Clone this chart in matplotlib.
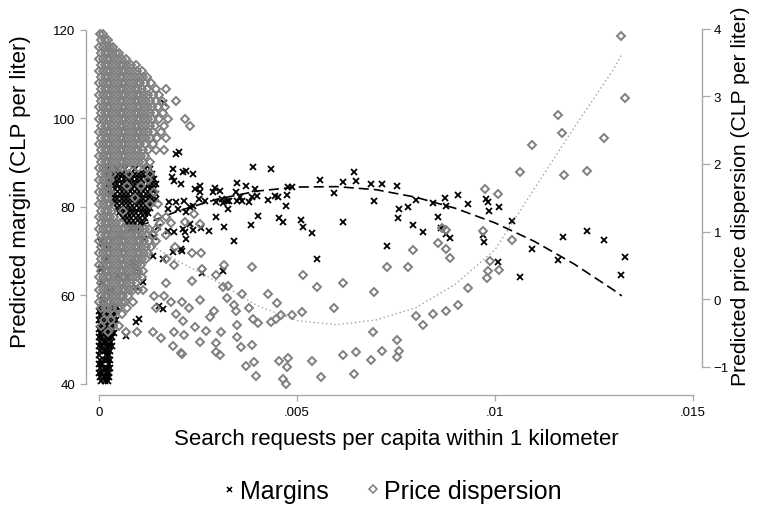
import matplotlib
matplotlib.use("Agg")
import matplotlib.pyplot as plt
from matplotlib.lines import Line2D

plt.rcParams['font.family'] = ['Liberation Sans', 'DejaVu Sans']

# search requests are stored per 10,000 inhabitants, converted when plotted
# margins (CLP per liter), scattered stations
margin_x = [22.0, 38.9, 43.4, 64.4, 64.9, 55.8, 61.6, 68.7, 71.5, 75.3, 25.5, 24.2, 25.5, 29.3,
            30.6, 28.8, 34.8, 37.1, 34.6, 39.4, 39.9, 38.6, 35.6, 36.1, 37.9, 34.8, 32.3, 31.1,
            29.5, 31.3, 32.8, 26.8, 25.3, 21.5, 23.7, 23.0, 32.6, 42.7, 44.4, 45.2, 47.7, 48.7,
            47.5, 47.2, 59.3, 69.4, 80.1, 84.3, 78.0, 75.8, 75.5, 79.3, 81.8, 85.6, 29.5, 40.2,
            38.4, 31.6, 27.8, 25.8, 23.7, 21.7, 23.0, 45.5, 46.5, 51.0, 51.5, 53.8, 61.6, 34.1,
            21.0, 55.1, 72.7, 26.0, 31.3, 87.4, 87.6, 90.7, 93.2, 86.4, 87.6, 88.6, 97.7, 98.2,
            101.0, 98.5, 104.3, 97.0, 97.2, 100.8, 106.3, 109.3, 115.9, 117.2, 123.2, 127.5,
            132.8, 131.8,
            19.4, 18.7, 21.2, 23.7, 18.9, 20.7, 17.7, 19.4, 17.4, 19.9, 22.0, 14.9, 17.4, 18.9,
            21.2, 22.0, 13.9, 11.4, 20.7, 18.7, 13.6, 16.2, 8.6, 9.3, 16.4, 20.2, 18.4, 4.8, 6.8,
            11.1, 9.3, 16.2, 15.2, 10.1, 9.3, 6.8, 0.5, 1.5, 0.8, 2.0, 1.0, 3.0, 0.4, 2.5]
margin_y = [88.1, 89.0, 88.6, 87.9, 85.9, 86.1, 85.7, 85.2, 85.2, 84.7, 84.7, 84.1, 83.4, 84.3,
            83.6, 83.4, 85.4, 84.7, 83.4, 84.1, 82.5, 82.3, 82.3, 81.4, 81.1, 81.4, 81.4, 81.8,
            81.1, 80.9, 81.4, 81.4, 81.8, 81.4, 80.2, 80.0, 79.5, 81.6, 82.5, 82.3, 84.5, 84.5,
            82.7, 80.2, 83.2, 81.4, 81.6, 80.9, 80.0, 79.5, 77.5, 75.9, 74.4, 77.7, 77.7, 78.0,
            75.9, 75.5, 74.6, 75.3, 74.8, 74.4, 76.2, 77.5, 76.6, 77.1, 75.5, 74.1, 76.6, 72.3,
            70.1, 68.2, 71.2, 65.1, 65.5, 82.0, 80.2, 82.7, 80.7, 75.3, 73.9, 73.0, 81.8, 81.1,
            80.0, 79.1, 76.8, 73.7, 72.1, 67.6, 64.2, 70.5, 68.0, 73.2, 74.6, 72.5,
            68.7, 64.6,
            92.0, 88.6, 87.9, 87.5, 85.9, 85.2, 81.1, 81.1, 79.5, 79.5, 78.9, 75.5, 74.6, 74.4,
            75.0, 72.8, 73.2, 72.8, 70.5, 69.8, 68.9, 68.2, 67.6, 66.0, 103.5, 92.4, 86.8, 64.4,
            64.2, 63.0, 61.9, 57.0, 57.6, 54.7, 54.0, 50.8, 72.0, 68.0, 63.0, 60.5, 59.0, 61.0,
            66.0, 70.5]

# margins, dense group of low-search stations: (margin, [search requests])
margin_rows = [
    (88.5, [2.0, 4.5, 6.5, 9.0, 11.5, 13.0]),
    (87.4, [2.4, 3.5, 4.7, 5.7, 6.9, 7.9, 9.0, 10.2, 11.2, 12.3, 13.4]),
    (86.3, [2.9, 4.0, 5.1, 6.3, 7.3, 8.4, 9.5, 10.6, 11.8, 12.8, 14.0]),
    (85.2, [2.4, 3.5, 4.6, 5.7, 6.8, 8.0, 9.0, 10.1, 11.2, 12.3, 13.4, 14.5]),
    (84.1, [2.9, 4.0, 5.2, 6.2, 7.3, 8.4, 9.6, 10.6, 11.7, 12.8, 14.0]),
    (83.0, [3.0, 4.1, 5.2, 6.3, 7.4, 8.5, 9.6, 10.7, 11.8, 12.9, 14.5]),
    (81.9, [3.5, 4.6, 5.7, 6.8, 7.9, 9.0, 10.1, 11.2, 12.3, 13.4, 14.3]),
    (80.8, [3.5, 4.6, 5.7, 6.8, 7.9, 9.0, 10.1, 11.2, 12.3, 13.4]),
    (79.7, [4.5, 5.6, 6.7, 7.8, 8.9, 10.0, 11.1, 12.2, 13.0]),
    (78.6, [5.0, 6.1, 7.2, 8.3, 9.4, 10.5, 11.6, 12.5]),
    (77.5, [6.0, 7.1, 8.2, 9.3, 10.4, 11.5]),
    (76.4, [7.0, 8.1, 9.2, 10.3, 11.0]),
    (75.3, [8.0, 9.5]),
    (57.5, [0.3, 1.2, 2.1, 3.0, 3.9, 4.6]),
    (56.5, [0.0, 0.8, 1.7, 2.6, 3.5, 4.3]),
    (55.5, [0.3, 1.2, 2.1, 3.0, 3.9]),
    (54.5, [0.0, 0.8, 1.7, 2.6, 3.5, 4.4]),
    (53.5, [0.3, 1.2, 2.1, 3.0, 3.9]),
    (52.5, [0.0, 0.8, 1.7, 2.6, 3.5]),
    (51.5, [0.3, 1.2, 2.1, 3.0, 3.8]),
    (50.5, [0.0, 0.8, 1.7, 2.6, 3.4]),
    (49.5, [0.3, 1.2, 2.1, 3.0]),
    (48.5, [0.0, 0.8, 1.7, 2.6, 3.3]),
    (47.5, [0.3, 1.2, 2.1, 2.9]),
    (46.5, [0.0, 1.7, 2.6]),
    (45.5, [0.3, 1.2, 2.1, 2.9]),
    (44.5, [0.0, 0.8, 2.6]),
    (43.5, [0.3, 1.2, 2.1, 2.8]),
    (42.5, [0.0, 0.8, 1.7, 2.5]),
    (41.5, [0.3, 1.2, 2.1, 2.6]),
    (40.6, [0.6, 1.5, 2.3]),
]

# price dispersion (CLP per liter), scattered stations
disp_x = [38.6, 51.5, 55.1, 61.6, 69.4, 72.7, 78.0, 79.3, 85.6, 59.3, 31.6, 26.0, 23.5, 25.8,
          21.7, 24.0, 25.5, 23.5, 29.5, 31.3, 32.6, 32.3, 36.1, 42.7, 25.5, 21.0, 22.7, 34.1,
          37.9, 44.9, 46.0, 48.7, 51.3, 29.0, 28.0, 34.6, 38.9, 40.2, 43.4, 44.7, 34.8, 21.2,
          24.2, 27.0, 30.8, 21.5, 25.5, 29.5, 34.8, 38.6, 35.9, 29.5, 30.6, 21.0, 69.2, 80.1,
          81.8, 84.3, 75.3, 71.5, 75.8, 75.3, 68.7, 64.9, 61.6, 64.4, 56.1, 53.8, 47.7, 45.5,
          47.5, 37.1, 39.1, 39.6, 46.5, 47.2, 131.8, 132.8, 115.9, 116.9, 127.5, 109.3, 106.3,
          117.4, 123.2, 97.5, 100.8, 97.0, 86.6, 87.6, 87.6, 88.6, 104.3, 98.7, 101.0, 98.2,
          98.0, 93.2, 90.7, 87.6]
disp_y = [0.47, 0.36, 0.18, 0.24, 0.10, 0.47, 0.47, 0.73, 0.83, -0.13, 0.50, 0.44, 0.68, 0.68,
          1.14, 1.26, 1.11, 0.27, 0.36, 0.18, 0.19, 0.01, 0.07, 0.07, -0.01, -0.04, -0.13, -0.09,
          -0.13, -0.06, -0.24, -0.24, -0.19, -0.18, -0.27, -0.18, -0.30, -0.36, -0.34, -0.30,
          -0.39, -0.33, -0.41, -0.47, -0.49, -0.53, -0.64, -0.65, -0.56, -0.68, -0.71, -0.79,
          -0.83, -0.81, -0.49, -0.25, -0.39, -0.22, -0.61, -0.77, -0.77, -0.86, -0.90, -0.79,
          -0.83, -1.11, -1.16, -0.92, -0.87, -0.92, -1.01, -0.99, -0.93, -1.14, -1.19, -1.26,
          3.90, 2.98, 2.73, 2.46, 2.39, 2.28, 1.88, 1.84, 1.90, 1.63, 1.56, 1.01, 1.05, 1.02,
          0.74, 0.61, 0.87, 0.56, 0.43, 0.41, 0.31, 0.16, -0.09, -0.18]

# price dispersion, dense group of low-search stations: (dispersion, [search requests])
disp_rows = [
    (3.92, [0.3, 1.0]),
    (3.83, [0.5, 1.4, 2.3]),
    (3.74, [0.1, 0.9, 1.9, 2.8, 3.6]),
    (3.65, [0.5, 1.4, 2.3, 3.3, 4.2, 5.1]),
    (3.56, [0.1, 0.9, 1.9, 2.8, 3.8, 4.7, 5.7, 6.8]),
    (3.47, [0.5, 1.4, 2.3, 3.3, 4.2, 5.2, 6.1, 7.1, 8.2, 9.3]),
    (3.38, [0.1, 0.9, 1.9, 2.8, 3.8, 4.7, 5.7, 6.6, 7.6, 8.5, 9.6, 10.8]),
    (3.29, [0.5, 1.4, 2.3, 3.3, 4.2, 5.2, 6.1, 7.1, 8.0, 9.0, 10.0, 11.0, 12.2]),
    (3.20, [0.1, 0.9, 1.9, 2.8, 3.8, 4.7, 5.7, 6.6, 7.6, 8.5, 9.5, 10.4, 11.5, 13.2]),
    (3.11, [0.5, 1.4, 2.3, 3.3, 4.2, 5.2, 6.1, 7.1, 8.0, 9.0, 9.9, 10.9, 12.0, 14.3, 17.0]),
    (3.02, [0.1, 0.9, 1.9, 2.8, 3.8, 4.7, 5.7, 6.6, 7.6, 8.5, 9.5, 10.4, 11.4, 12.5, 13.6,
            15.1]),
    (2.93, [0.5, 1.4, 2.3, 3.3, 4.2, 5.2, 6.1, 7.1, 8.0, 9.0, 9.9, 10.9, 11.8, 13.0, 14.5,
            16.0, 19.5]),
    (2.84, [0.1, 0.9, 1.9, 2.8, 3.8, 4.7, 5.7, 6.6, 7.6, 8.5, 9.5, 10.4, 11.4, 12.3, 13.5,
            15.0, 16.6]),
    (2.75, [0.5, 1.4, 2.3, 3.3, 4.2, 5.2, 6.1, 7.1, 8.0, 9.0, 9.9, 10.9, 11.8, 12.8, 14.2,
            16.2]),
    (2.66, [0.1, 0.9, 1.9, 2.8, 3.8, 4.7, 5.7, 6.6, 7.6, 8.5, 9.5, 10.4, 11.4, 12.3, 13.3,
            15.2, 17.4, 21.8]),
    (2.57, [0.5, 1.4, 2.3, 3.3, 4.2, 5.2, 6.1, 7.1, 8.0, 9.0, 9.9, 10.9, 11.8, 12.8, 14.2,
            16.4, 23.0]),
    (2.48, [0.1, 0.9, 1.9, 2.8, 3.8, 4.7, 5.7, 6.6, 7.6, 8.5, 9.5, 10.4, 11.4, 12.3, 13.6,
            15.6]),
    (2.39, [0.5, 1.4, 2.3, 3.3, 4.2, 5.2, 6.1, 7.1, 8.0, 9.0, 9.9, 10.9, 11.8, 13.0, 14.6,
            16.8]),
    (2.30, [0.1, 0.9, 1.9, 2.8, 3.8, 4.7, 5.7, 6.6, 7.6, 8.5, 9.5, 10.4, 11.6, 13.6]),
    (2.21, [0.5, 1.4, 2.3, 3.3, 4.2, 5.2, 6.1, 7.1, 8.0, 9.0, 9.9, 11.0, 12.5, 14.4, 16.3]),
    (2.12, [0.1, 0.9, 1.9, 2.8, 3.8, 4.7, 5.7, 6.6, 7.6, 8.5, 9.5, 10.5, 11.6]),
    (2.03, [0.5, 1.4, 2.3, 3.3, 4.2, 5.2, 6.1, 7.1, 8.0, 9.0, 10.0, 11.2, 12.8]),
    (1.94, [0.1, 0.9, 1.9, 2.8, 3.8, 4.7, 5.7, 7.2, 9.8, 12.0]),
    (1.85, [0.5, 1.4, 2.3, 3.3, 7.5, 13.0]),
    (1.76, [0.1, 0.9, 1.9, 2.8, 12.4]),
    (1.67, [0.5, 1.4, 2.3, 7.0, 10.5]),
    (1.58, [0.1, 0.9, 1.9, 2.8, 14.0]),
    (1.49, [0.5, 1.4, 2.3, 9.0]),
    (1.40, [0.1, 0.9, 1.9, 2.8, 12.9, 14.8]),
    (1.31, [0.5, 1.4, 2.3, 3.3, 6.0]),
    (1.22, [0.1, 0.9, 1.9, 2.8, 3.8, 14.8, 16.8]),
    (1.13, [0.5, 1.4, 2.3, 3.3, 4.2, 5.2, 15.5, 18.2]),
    (1.04, [0.1, 0.9, 1.9, 2.8, 3.8, 4.7, 5.7, 6.6, 7.6, 8.5, 9.5, 10.4, 11.6, 12.6, 14.5]),
    (0.95, [0.5, 1.4, 2.3, 3.3, 4.2, 5.2, 6.1, 7.1, 8.0, 9.0, 9.9, 10.9, 11.8, 13.6, 16.8]),
    (0.86, [0.1, 0.9, 1.9, 2.8, 3.8, 4.7, 5.7, 6.6, 7.6, 8.5, 9.5, 10.4, 11.4, 12.6, 14.5]),
    (0.77, [0.5, 1.4, 2.3, 3.3, 4.2, 5.2, 6.1, 7.1, 8.0, 9.0, 9.9, 10.9, 11.8, 13.2, 19.2]),
    (0.68, [0.1, 0.9, 1.9, 2.8, 3.8, 4.7, 5.7, 6.6, 7.6, 8.5, 9.5, 10.4, 11.4, 12.3]),
    (0.59, [0.5, 1.4, 2.3, 3.3, 4.2, 5.2, 6.1, 7.1, 8.0, 9.0, 9.9, 10.9, 11.8, 16.8]),
    (0.50, [0.1, 0.9, 1.9, 2.8, 3.8, 4.7, 5.7, 6.6, 7.6, 8.5, 9.5, 10.6, 18.9]),
    (0.41, [0.5, 1.4, 2.3, 3.3, 4.2, 5.2, 6.1, 7.1, 8.0, 9.0, 9.9, 11.0]),
    (0.32, [0.1, 0.9, 1.9, 2.8, 3.8, 4.7, 5.7, 6.6, 7.6, 8.5, 9.6, 10.8]),
    (0.23, [0.5, 1.4, 2.3, 3.3, 4.2, 5.2, 6.1, 7.1, 8.0, 9.4, 16.9]),
    (0.14, [0.1, 0.9, 1.9, 2.8, 3.8, 4.7, 5.7, 6.6, 7.6, 8.5, 9.8, 11.0]),
    (0.05, [0.5, 1.4, 2.3, 3.3, 4.2, 5.2, 6.1, 7.2, 13.9, 16.4]),
    (-0.04, [0.1, 0.9, 1.9, 2.8, 3.8, 4.7, 5.7, 6.6, 8.6, 18.2]),
    (-0.13, [0.5, 1.4, 2.3, 3.3, 4.8, 7.0, 14.4]),
    (-0.22, [2.0, 3.9, 5.8, 19.4]),
    (-0.31, [1.2, 3.0]),
    (-0.40, [0.6, 3.6, 5.0]),
    (-0.49, [2.4, 6.9, 9.5, 13.6, 18.9]),
    (-0.58, [15.7]),
    (-0.70, [18.7]),
    (-0.80, [20.7]),
]

# fitted curves
fit_x = [0, 0.001, 0.002, 0.003, 0.004, 0.005, 0.006, 0.007, 0.008, 0.009, 0.010, 0.011,
         0.012, 0.013, 0.0132]
margin_fit = [71.2, 75.6, 79.1, 81.8, 83.6, 84.5, 84.6, 83.9, 82.2, 79.7, 76.4, 72.2, 67.1,
              61.2, 59.9]
disp_fit = [1.25, 0.90, 0.56, 0.25, -0.10, -0.32, -0.38, -0.31, -0.13, 0.22, 0.73, 1.64, 2.54,
            3.41, 3.62]


def expand(rows):
    xs, ys = [], []
    for y, row in rows:
        for x in row:
            xs.append(x)
            ys.append(y)
    return xs, ys


mx, my = expand(margin_rows)
mx = [x / 1e4 for x in margin_x + mx]
my = margin_y + my
dx, dy = expand(disp_rows)
dx = [x / 1e4 for x in disp_x + dx]
dy = disp_y + dy

AXIS_GREY = '#a9a9a9'
DIAMOND_GREY = '#808080'

fig = plt.figure(figsize=(7.64, 5.10), dpi=100)
ax = fig.add_axes([86 / 764, 114 / 510, 616 / 764, 370 / 510])
ax.patch.set_visible(False)

ax.plot(fit_x, margin_fit, color='black', lw=1.2, dashes=(6, 3), zorder=1)
ax.plot(mx, my, 'x', ls='none', color='black', ms=4.3, mew=1.3, zorder=2)

ax2 = ax.twinx()
ax2.plot(fit_x, disp_fit, color='#a0a0a0', lw=1.0, linestyle=(0, (1, 2)), zorder=1)
ax2.plot(dx, dy, 'D', ls='none', mfc='none', mec=DIAMOND_GREY, ms=3.7, mew=1.4, zorder=2)

ax.set_xlim(-0.000328, 0.015227)
ax.set_ylim(37.5, 121.13)
ax2.set_ylim(-1.422, 4.059)

ax.set_xticks([0, 0.005, 0.01, 0.015])
ax.set_xticklabels(['0', '.005', '.01', '.015'])
ax.set_yticks([40, 60, 80, 100, 120])
ax2.set_yticks([-1, 0, 1, 2, 3, 4])

for s in ['top', 'right']:
    ax.spines[s].set_visible(False)
for s in ['top', 'left', 'bottom']:
    ax2.spines[s].set_visible(False)
ax.spines['left'].set_bounds(40, 120)
ax.spines['bottom'].set_bounds(0, 0.015)
ax2.spines['right'].set_bounds(-1, 4)
for sp in [ax.spines['left'], ax.spines['bottom'], ax2.spines['right']]:
    sp.set_color(AXIS_GREY)
    sp.set_linewidth(1.0)

ax.tick_params(axis='both', direction='out', length=4.3, width=0.9, color=AXIS_GREY,
               labelsize=9.5, pad=3.5)
ax2.tick_params(axis='y', direction='out', length=5.8, width=0.9, color=AXIS_GREY,
                labelsize=9.5, pad=2.5)

fig.text(396 / 764, 1 - 440 / 510, 'Search requests per capita within 1 kilometer',
         ha='center', va='center', fontsize=16)
fig.text(21 / 764, 1 - 192 / 510, 'Predicted margin (CLP per liter)', rotation=90,
         ha='center', va='center', fontsize=16)
fig.text(741 / 764, 1 - 196 / 510, 'Predicted price dispersion (CLP per liter)', rotation=90,
         ha='center', va='center', fontsize=15.2)

handles = [Line2D([], [], marker='x', ls='none', color='black', ms=3.6, mew=1.1),
           Line2D([], [], marker='D', ls='none', mfc='none', mec=DIAMOND_GREY, ms=3.6, mew=1.1)]
fig.legend(handles, ['Margins', 'Price dispersion'], loc='center',
           bbox_to_anchor=(392 / 764, 1 - 492 / 510), ncol=2, frameon=False, fontsize=18,
           handlelength=0.5, handletextpad=0.2, columnspacing=1.52, borderpad=0)

fig.savefig('out.png', dpi=100)
